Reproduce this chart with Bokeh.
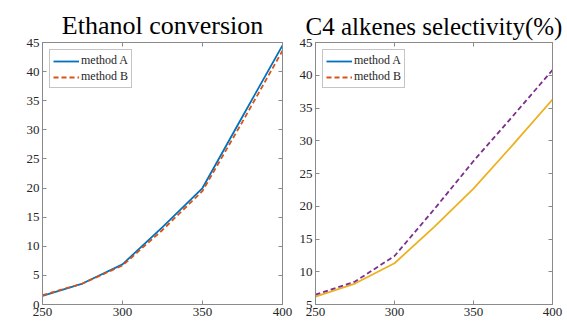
from bokeh.plotting import figure
from bokeh.layouts import row
from bokeh.models import Range1d, LinearAxis, FixedTicker, Legend, LegendItem
from bokeh.embed import file_html
from bokeh.resources import INLINE

# ---- data ----
temps = [250, 275, 300, 325, 350, 375, 400]
conv_A = [1.5, 3.6, 6.9, 13.3, 20.0, 32.3, 44.5]
conv_B = [1.6, 3.6, 6.7, 12.8, 19.5, 31.4, 43.6]
sel_A = [6.2, 8.2, 11.3, 16.8, 22.7, 29.4, 36.3]
sel_B = [6.5, 8.5, 12.4, 19.5, 26.9, 33.8, 40.8]
x_ticks = [250, 300, 350, 400]
titles = ["Ethanol conversion", "C4 alkenes selectivity(%)"]
labels = ["method A", "method B"]

BLUE = "#0072BD"
ORANGE = "#D95319"
YELLOW = "#EDB120"
PURPLE = "#7E2F8E"
AX = "#8a8a8a"
TXT = "#262626"
FONT = "Liberation Serif"


def style(p, yticks, title_size):
    p.xgrid.visible = False
    p.ygrid.visible = False
    p.outline_line_color = AX
    p.background_fill_color = "white"
    p.border_fill_color = "white"
    p.title.text_font = FONT
    p.title.text_font_size = title_size
    p.title.text_font_style = "normal"
    p.title.text_color = "black"
    p.title.align = "center"
    p.title.standoff = 6
    for ax in p.xaxis + p.yaxis:
        ax.axis_line_color = AX
        ax.major_tick_line_color = AX
        ax.major_tick_in = 4
        ax.major_tick_out = 0
        ax.minor_tick_line_color = None
        ax.major_label_text_font = FONT
        ax.major_label_text_font_size = "13px"
        ax.major_label_text_color = TXT
        ax.major_label_standoff = 3
    p.xaxis.ticker = FixedTicker(ticks=x_ticks)
    p.yaxis.ticker = FixedTicker(ticks=yticks)
    top = LinearAxis(ticker=FixedTicker(ticks=x_ticks), major_label_text_font_size="1px",
                     major_label_text_color=None,
                     major_tick_in=4, major_tick_out=0, minor_tick_line_color=None,
                     axis_line_color=AX, major_tick_line_color=AX, major_label_standoff=0)
    right = LinearAxis(ticker=FixedTicker(ticks=yticks), major_label_text_font_size="1px",
                       major_label_text_color=None,
                       major_tick_in=4, major_tick_out=0, minor_tick_line_color=None,
                       axis_line_color=AX, major_tick_line_color=AX, major_label_standoff=0)
    p.add_layout(top, "above")
    p.add_layout(right, "right")


def add_legend(p, items):
    leg = Legend(items=items, location="top_left")
    leg.margin = 7
    leg.border_line_color = AX
    leg.background_fill_color = "white"
    leg.label_text_font = FONT
    leg.label_text_font_size = "12px"
    leg.label_text_color = TXT
    leg.glyph_width = 26
    leg.glyph_height = 14
    leg.label_height = 14
    leg.label_standoff = 2
    leg.padding = 3
    leg.spacing = 1
    p.add_layout(leg)


# ---- left panel ----
p1 = figure(width=293, height=324, output_backend="svg", toolbar_location=None,
            x_range=Range1d(250, 400), y_range=Range1d(0, 45),
            min_border_left=42, min_border_right=11, min_border_top=40, min_border_bottom=20,
            title=titles[0])
style(p1, list(range(0, 50, 5)), "26px")
rA = p1.line(temps, conv_A, line_color=BLUE, line_width=1.8)
rB = p1.line(temps, conv_B, line_color=ORANGE, line_width=1.8, line_dash="5 3")
add_legend(p1, [LegendItem(label=labels[0], renderers=[rA]),
                LegendItem(label=labels[1], renderers=[rB])])

# ---- right panel ----
p2 = figure(width=272, height=324, output_backend="svg", toolbar_location=None,
            x_range=Range1d(250, 400), y_range=Range1d(5, 45),
            min_border_left=22, min_border_right=13, min_border_top=42, min_border_bottom=17,
            title=titles[1])
style(p2, list(range(5, 50, 5)), "25px")
p2.line(temps, sel_A, line_color=YELLOW, line_width=1.8)
p2.line(temps, sel_B, line_color=PURPLE, line_width=1.8, line_dash="5 3")
# legend keys as shown in the original (blue / orange); these renderers are hidden
kA = p2.line(temps, sel_A, line_color=BLUE, line_width=1.8, visible=False)
kB = p2.line(temps, sel_B, line_color=ORANGE, line_width=1.8, line_dash="5 3", visible=False)
add_legend(p2, [LegendItem(label=labels[0], renderers=[kA]),
                LegendItem(label=labels[1], renderers=[kB])])

layout = row(p1, p2)
open("out.html", "w").write(file_html(layout, INLINE))
